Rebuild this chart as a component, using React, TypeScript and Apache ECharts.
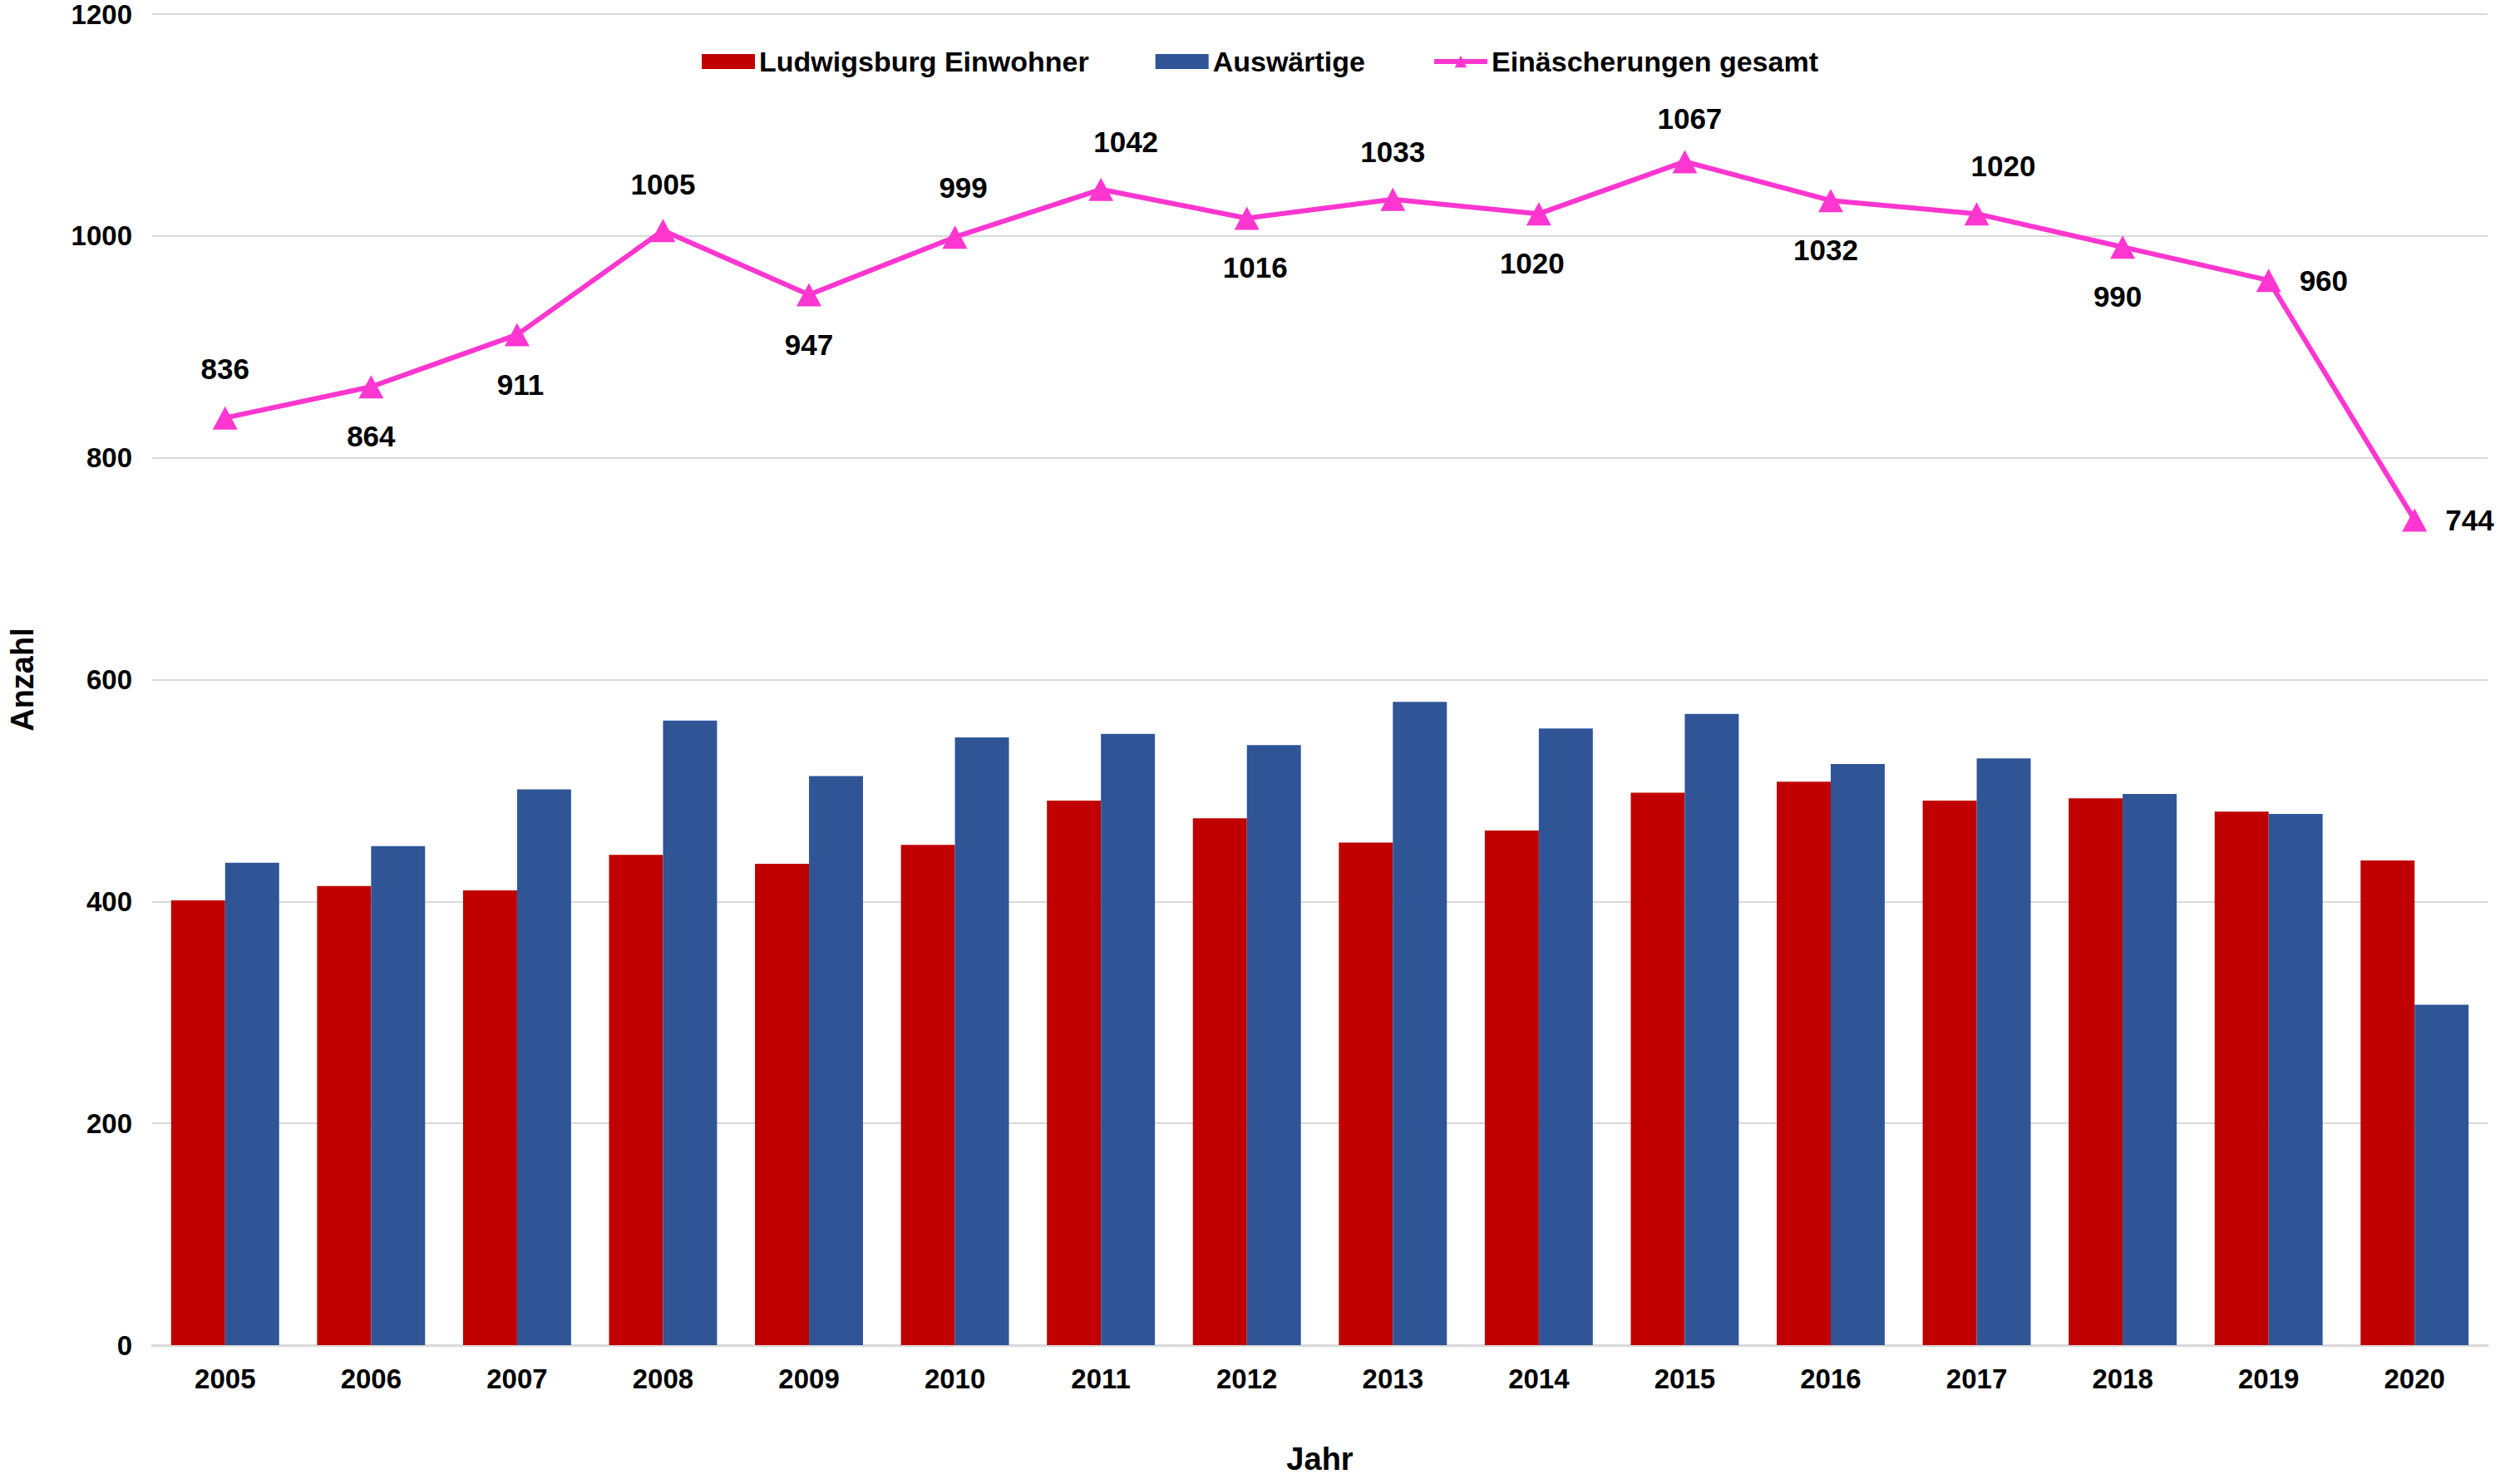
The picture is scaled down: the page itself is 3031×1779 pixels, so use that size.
import React, { useEffect, useRef } from "react";
import * as echarts from "echarts";

const years = ["2005","2006","2007","2008","2009","2010","2011","2012","2013","2014","2015","2016","2017","2018","2019","2020"];
const einwohner = [401, 414, 410, 442, 434, 451, 491, 475, 453, 464, 498, 508, 491, 493, 481, 437];
const auswaertige = [435, 450, 501, 563, 513, 548, 551, 541, 580, 556, 569, 524, 529, 497, 479, 307];
const gesamt = [836, 864, 911, 1005, 947, 999, 1042, 1016, 1033, 1020, 1067, 1032, 1020, 990, 960, 744];
const yTicks = { min: 0, max: 1200, interval: 200 };

// label placement for line data labels (style only)
const labelPos = ["top","bottom","bottom","top","bottom","top","top","bottom","top","bottom","top","bottom","top","bottom","right","right"];
const labelDx = [0, 0, 4, 0, 0, 10, 30, 10, 0, -8, 6, -6, 32, -6, -6, -6];
const labelDy = [0, 0, 0, 4, 0, 0, 2, 0, 2, 0, 8, 0, 2, 0, 0, 0];

const FONT = "'Liberation Sans', Arial, sans-serif";

export default function App() {
  const ref = useRef<HTMLDivElement>(null);
  useEffect(() => {
    if (!ref.current) return;
    const chart = echarts.init(ref.current, undefined, { renderer: "svg" });
    chart.setOption({
      animation: false,
      backgroundColor: "#ffffff",
      textStyle: { fontFamily: FONT },
      legend: {
        top: 52,
        left: "center",
        itemGap: 80,
        itemWidth: 64,
        itemHeight: 18,
        textStyle: { fontSize: 34, fontWeight: "bold", color: "#000", fontFamily: FONT },
        data: [
          { name: "Ludwigsburg Einwohner", icon: "rect" },
          { name: "Auswärtige", icon: "rect" },
          { name: "Einäscherungen gesamt", lineStyle: { width: 6 } },
        ],
      },
      grid: { left: 173, right: 39, top: 17, bottom: 161, containLabel: false },
      xAxis: {
        type: "category",
        data: years,
        name: "Jahr",
        nameLocation: "middle",
        nameGap: 118,
        nameTextStyle: { fontSize: 38, fontWeight: "bold", color: "#000", fontFamily: FONT },
        axisLine: { lineStyle: { color: "#D9D9D9", width: 3 } },
        axisTick: { show: false },
        axisLabel: { fontSize: 33, fontWeight: "bold", color: "#000", margin: 24, fontFamily: FONT },
      },
      yAxis: {
        type: "value",
        min: yTicks.min,
        max: yTicks.max,
        interval: yTicks.interval,
        name: "Anzahl",
        nameLocation: "middle",
        nameRotate: 90,
        nameGap: 137,
        nameTextStyle: { fontSize: 38, fontWeight: "bold", color: "#000", fontFamily: FONT },
        axisLine: { show: false },
        axisTick: { show: false },
        axisLabel: {
          fontSize: 33,
          fontWeight: "bold",
          color: "#000",
          margin: 24,
          fontFamily: FONT,
          formatter: (v: number) => String(v),
        },
        splitLine: { lineStyle: { color: "#D9D9D9", width: 2 } },
      },
      series: [
        {
          name: "Ludwigsburg Einwohner",
          type: "bar",
          data: einwohner,
          barGap: "0%",
          barCategoryGap: "26%",
          itemStyle: { color: "#C00000" },
        },
        {
          name: "Auswärtige",
          type: "bar",
          data: auswaertige,
          barGap: "0%",
          barCategoryGap: "26%",
          itemStyle: { color: "#2F5597" },
        },
        {
          name: "Einäscherungen gesamt",
          type: "line",
          symbol: "triangle",
          symbolSize: [30, 28],
          lineStyle: { color: "#FF36D0", width: 6 },
          itemStyle: { color: "#FF36D0" },
          data: gesamt.map((v, i) => ({
            value: v,
            label: { position: labelPos[i], offset: [labelDx[i], labelDy[i]] },
          })),
          label: {
            show: true,
            distance: 28,
            fontSize: 35,
            fontWeight: "bold",
            color: "#000",
            fontFamily: FONT,
          },
          z: 5,
        },
      ],
    });
    return () => chart.dispose();
  }, []);
  return (
    <div
      ref={ref}
      style={{ position: "fixed", left: 0, top: 0, width: 3031, height: 1779, background: "#fff" }}
    />
  );
}
